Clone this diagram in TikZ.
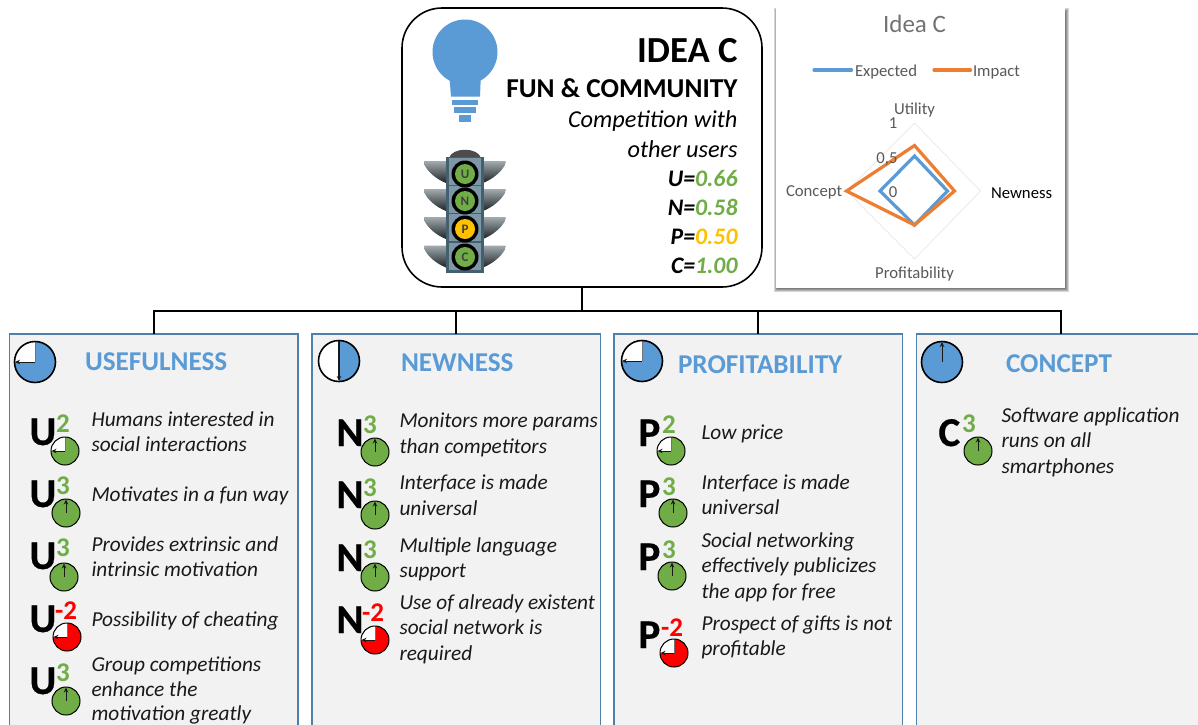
\documentclass[tikz,border=0pt]{standalone}
\usepackage{fontspec}
\setmainfont{Carlito}
\newfontfamily\bigfont[BoldFeatures={FakeBold=0.5}]{Carlito}
\usetikzlibrary{arrows.meta}
\definecolor{lblue}{HTML}{5B9BD5}
\definecolor{lorange}{HTML}{ED7D31}
\definecolor{lgreen}{HTML}{70AD47}
\definecolor{lamber}{HTML}{FFC000}
\definecolor{lred}{HTML}{FF0000}
\definecolor{panelfill}{HTML}{F2F2F2}
\definecolor{panelline}{HTML}{4F7FAB}
\definecolor{chartgray}{HTML}{595959}
\definecolor{tlframe}{HTML}{44606F}
\definecolor{tlface}{HTML}{7C98A6}
\definecolor{tlwingA}{HTML}{A2ABAF}
\definecolor{tlwingB}{HTML}{4A5459}
\definecolor{tlwingC}{HTML}{1C2327}
\newcommand\fs[1]{\fontsize{#1pt}{#1pt}\selectfont}
\tikzset{
  lab/.style={inner sep=0pt,outer sep=0pt,anchor=base west},
  labr/.style={inner sep=0pt,outer sep=0pt,anchor=base east},
  labc/.style={inner sep=0pt,outer sep=0pt,anchor=base},
  paneltext/.style={lab,font=\fs{21.3}\itshape,text=black!90},
  headtext/.style={lab,font=\fs{27.2}\bfseries,text=lblue},
  bigletter/.style={lab,font=\fs{41}\bigfont\bfseries,text=black},
  supnum/.style={lab,font=\fs{27}\bfseries},
  chartlabel/.style={font=\fs{16.7},text=chartgray},
  panelbox/.style={rectangle,draw=panelline,line width=1.2pt,fill=panelfill,minimum width=288.5pt,minimum height=420pt,anchor=north west,inner sep=0pt,outer sep=0pt},
  tree/.style={draw=black,line width=2.3pt},
  series/.style={line width=3.2pt,line join=miter},
  clockarrow/.style={draw=black!90,line width=1pt,-{Stealth[length=5pt,width=4.5pt]}},
  wingshade/.style={top color=tlwingA,middle color=tlwingB,bottom color=tlwingC},
}
% #1 x, #2 y, #3 r, #4 colour, #5 outline width
\newcommand\clockThree[5]{%
  \fill[#4] (#1,#2) circle[radius=#3pt];
  \fill[white] (#1,#2) -- ++(-#3,0) arc[start angle=180,end angle=90,radius=#3pt] -- cycle;
  \draw[black!55,line width=1pt] (#1,#2-#3) -- (#1,#2);
  \draw[black,line width=#5pt] (#1,#2) circle[radius=#3pt];
  \draw[clockarrow] (#1,#2) -- (#1-#3+.5,#2);
}
\newcommand\clockFull[5]{%
  \fill[#4] (#1,#2) circle[radius=#3pt];
  \draw[black,line width=#5pt] (#1,#2) circle[radius=#3pt];
  \draw[clockarrow] (#1,#2) -- (#1,#2-#3+.5);
}
\newcommand\entry[9]{% name, letter, lx, ly, sup, colour, sx, sy, (unused)
  \node[bigletter] (#1l) at (#3,#4) {#2};
  \node[supnum,text=#6] (#1s) at (#7,#8) {#5};
}
\begin{document}
\begin{tikzpicture}[x=1pt,y=-1pt]
\path[use as bounding box] (0,0) rectangle (1198,724);
\clip (0,0) rectangle (1198,724);
\fill[white] (0,0) rectangle (1198,724);

% panels
\node[panelbox] (upanel) at (9.5,334) {};
\node[panelbox] (npanel) at (312,334) {};
\node[panelbox] (ppanel) at (614,334) {};
\node[panelbox] (cpanel) at (916.5,334) {};

% idea box
\node[rectangle,rounded corners=40pt,draw=black,line width=1.6pt,fill=white,minimum width=360pt,minimum height=279pt,inner sep=0pt,outer sep=0pt] (idea) at (582,147.5) {};
\coordinate (bus) at (582,311);
\draw[tree] (idea.south) -- (bus);
\draw[tree] (bus) -| (upanel.north);
\draw[tree] (bus) -| (npanel.north);
\draw[tree] (bus) -| (ppanel.north);
\draw[tree] (bus) -| (cpanel.north);

% bulb
\fill[lblue] (465,52) circle[radius=32.5pt];
\fill[lblue] (449,72) -- (481,72) -- (480,96.5) -- (451,96.5) -- cycle;
\fill[lblue] (451.5,99.5) rectangle (478,105);
\fill[lblue] (454,107) rectangle (475.5,113);
\fill[lblue] (458.5,115) rectangle (471,121.5);

% traffic light
\fill[black!70] (449,158) .. controls (452,147) and (478,147) .. (481,158) -- cycle;
\foreach \wy in {161,189,217,245.5}{
  \shade[wingshade]
    (424,\wy) -- (446,\wy) -- (446,\wy+22) .. controls (436,\wy+18) and (428,\wy+11) .. (424.5,\wy+4) -- cycle;
  \shade[wingshade]
    (505.5,\wy) -- (483,\wy) -- (483,\wy+22) .. controls (493,\wy+18) and (501,\wy+11) .. (505,\wy+4) -- cycle;
}
\fill[tlframe] (446,157) rectangle (484,273);
\foreach \wy in {158,186,214,243}{
  \fill[tlface] (449,\wy) rectangle (481,\wy+26.5);
}
\foreach \nm/\wy/\col/\txt in {tu/174/lgreen/U,tn/201/lgreen/N,tp/229/lamber/P,tc/257/lgreen/C}{
  \fill[black] (465,\wy) circle[radius=13.5pt];
  \node[circle,fill=\col,minimum size=20pt,inner sep=0pt,font=\fs{13}\bfseries,text=black!75] (\nm) at (465,\wy) {\txt};
}

% idea text
\node[labr,font=\fs{36.7}\bfseries] (ideatitle) at (737.5,62) {IDEA C};
\node[labr,font=\fs{27.3}\bfseries] (ideasub) at (737.5,97) {FUN \& COMMUNITY};
\node[labr,font=\fs{24.3}\itshape] (idealine1) at (737.5,127.5) {Competition with};
\node[labr,font=\fs{24.3}\itshape] (idealine2) at (737.5,157) {other users};
\node[labr,font=\fs{23.7}\bfseries\itshape] (scoreu) at (737.5,186) {U=\textcolor{lgreen}{0.66}};
\node[labr,font=\fs{23.7}\bfseries\itshape] (scoren) at (737.5,215) {N=\textcolor{lgreen}{0.58}};
\node[labr,font=\fs{23.7}\bfseries\itshape] (scorep) at (737.5,244) {P=\textcolor{lamber}{0.50}};
\node[labr,font=\fs{23.7}\bfseries\itshape] (scorec) at (737.5,273) {C=\textcolor{lgreen}{1.00}};

% chart
\foreach \gr in {3,2,1,0}{
  \fill[black,opacity=.16] (776+1-\gr,8+3-\gr) rectangle (1065+1+\gr,288+1+\gr);
}
\node[rectangle,fill=white,minimum width=289pt,minimum height=280pt,inner sep=0pt,outer sep=0pt] (chart) at (920.5,148) {};
\node[labc,font=\fs{25},text=black!55] (charttitle) at (914.5,32) {Idea C};
\draw[black!9,line width=.7pt] (914.5,123) -- (980.5,191) -- (914.5,259) -- (846.5,191) -- cycle;
\draw[series,draw=lblue] (914.5,156) -- (947.5,191) -- (914.5,225) -- (880,191) -- cycle;
\draw[series,draw=lorange] (914.5,145.5) -- (954.5,191) -- (914.5,225) -- (846.5,191) -- cycle;
\coordinate (lega) at (814,70);
\coordinate (legb) at (851.5,70);
\coordinate (legc) at (934,70);
\coordinate (legd) at (970.5,70);
\draw[line width=3.2pt,draw=lblue,line cap=round] (lega) -- (legb);
\draw[line width=3.2pt,draw=lorange,line cap=round] (legc) -- (legd);
\node[lab,chartlabel] (legexp) at (855,76) {Expected};
\node[lab,chartlabel] (legimp) at (973,76) {Impact};
\node[labc,chartlabel] (axu) at (914.5,114) {Utility};
\node[labc,chartlabel] (axp) at (914.5,278) {Profitability};
\node[lab,chartlabel] (axc) at (786,196) {Concept};
\node[lab,chartlabel,text=black] (axn) at (991,198) {Newness};
\node[labc,chartlabel] (tick1) at (893,128) {1};
\node[labc,chartlabel] (tick5) at (887,163) {0,5};
\node[labc,chartlabel] (tick0) at (893,197) {0};

% panel headings
\node[headtext] (uhead) at (85,370) {USEFULNESS};
\node[headtext] (nhead) at (401,371) {NEWNESS};
\node[headtext] (phead) at (678,373) {PROFITABILITY};
\node[headtext] (chead) at (1006,372) {CONCEPT};
\clockThree{35}{362}{20.5}{lblue}{1.6}
% half clock
\fill[white] (339,361) circle[radius=20.5pt];
\fill[lblue] (339,340.5) arc[start angle=90,end angle=-90,radius=20.5pt] -- cycle;
\draw[black,line width=1.6pt] (339,361) circle[radius=20.5pt];
\draw[clockarrow,line width=1.3pt] (339,340.5) -- (339,381);
\clockThree{642}{361}{20.5}{lblue}{1.6}
\clockFull{942}{362}{20.5}{lblue}{1.6}

% usefulness
\entry{ua}{U}{29.5}{445}{2}{lgreen}{56}{432}{}
\entry{ub}{U}{29.5}{507}{3}{lgreen}{56}{494}{}
\entry{uc}{U}{29.5}{569}{3}{lgreen}{56}{556}{}
\entry{ud}{U}{29.5}{632}{-2}{lred}{55}{619}{}
\entry{ue}{U}{29.5}{694}{3}{lgreen}{56}{681}{}
\clockThree{65}{451}{14}{lgreen}{1}
\clockFull{66}{513}{14}{lgreen}{1}
\clockFull{64}{577}{14}{lgreen}{1}
\clockThree{67}{637}{14}{lred}{1}
\clockFull{66}{701}{14}{lgreen}{1}
\node[paneltext] (ut1) at (91.5,426.5) {Humans interested in};
\node[paneltext] (ut2) at (91.5,451.5) {social interactions};
\node[paneltext] (ut3) at (91.5,501.5) {Motivates in a fun way};
\node[paneltext] (ut4) at (91.5,551) {Provides extrinsic and};
\node[paneltext] (ut5) at (91.5,576.5) {intrinsic motivation};
\node[paneltext] (ut6) at (91.5,626.5) {Possibility of cheating};
\node[paneltext] (ut7) at (91.5,671.5) {Group competitions};
\node[paneltext] (ut8) at (91.5,696.5) {enhance the};
\node[paneltext] (ut9) at (91.5,720.5) {motivation greatly};

% newness
\entry{na}{N}{336.5}{446}{3}{lgreen}{363}{433}{}
\entry{nb}{N}{336.5}{508}{3}{lgreen}{363}{496}{}
\entry{nc}{N}{336.5}{571}{3}{lgreen}{363}{558}{}
\entry{nd}{N}{336.5}{633}{-2}{lred}{362}{621}{}
\clockFull{375}{452}{14}{lgreen}{1}
\clockFull{375}{515}{14}{lgreen}{1}
\clockFull{375}{577}{14}{lgreen}{1}
\clockThree{375}{640}{14}{lred}{1}
\node[paneltext] (nt1) at (399.5,427) {Monitors more params};
\node[paneltext] (nt2) at (399.5,453) {than competitors};
\node[paneltext] (nt3) at (399.5,489) {Interface is made};
\node[paneltext] (nt4) at (399.5,515) {universal};
\node[paneltext] (nt5) at (399.5,552) {Multiple language};
\node[paneltext] (nt6) at (399.5,577) {support};
\node[paneltext] (nt7) at (399.5,609) {Use of already existent};
\node[paneltext] (nt8) at (399.5,634) {social network is};
\node[paneltext] (nt9) at (399.5,660) {required};

% profitability
\entry{pa}{P}{638.5}{446}{2}{lgreen}{662}{433}{}
\entry{pb}{P}{638.5}{507}{3}{lgreen}{662}{495}{}
\entry{pc}{P}{638.5}{570}{3}{lgreen}{662}{558}{}
\entry{pd}{P}{638.5}{648}{-2}{lred}{661}{636}{}
\clockThree{671}{451}{14}{lgreen}{1}
\clockFull{673}{513}{14}{lgreen}{1}
\clockFull{672}{576}{14}{lgreen}{1}
\clockThree{674}{653}{14}{lred}{1}
\node[paneltext] (pt1) at (701.5,439) {Low price};
\node[paneltext] (pt2) at (701.5,489) {Interface is made};
\node[paneltext] (pt3) at (701.5,514) {universal};
\node[paneltext] (pt4) at (701.5,547) {Social networking};
\node[paneltext] (pt5) at (701.5,572) {effectively publicizes};
\node[paneltext] (pt6) at (701.5,598) {the app for free};
\node[paneltext] (pt7) at (701.5,630) {Prospect of gifts is not};
\node[paneltext] (pt8) at (701.5,655) {profitable};

% concept
\entry{ca}{C}{938.5}{446}{3}{lgreen}{962}{432}{}
\clockFull{978}{451}{14}{lgreen}{1}
\node[paneltext] (ct1) at (1001.5,422) {Software application};
\node[paneltext] (ct2) at (1001.5,447) {runs on all};
\node[paneltext] (ct3) at (1001.5,473) {smartphones};
\end{tikzpicture}
\end{document}
